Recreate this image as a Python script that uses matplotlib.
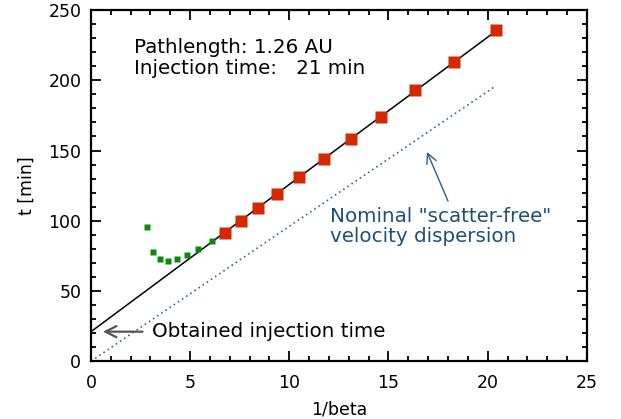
import numpy as np
import matplotlib
matplotlib.use("Agg")
from matplotlib import pyplot as plt

# red: points used for the fit
fit_invbeta = [6.75, 7.56, 8.42, 9.37, 10.48, 11.74, 13.10, 14.62, 16.33, 18.30, 20.41]
fit_t = [91, 100, 109, 119, 131, 144, 158, 174, 193, 213, 236]

# green: low-energy points not used
low_invbeta = [2.82, 3.13, 3.48, 3.88, 4.33, 4.84, 5.39, 6.10]
low_t = [95.7, 77.9, 72.9, 71.4, 72.9, 75.7, 80.0, 85.7]

# fitted line and nominal scatter-free line (end points)
line_invbeta = [0, 20.41]
line_t = [21, 235]
nominal_t = [0, 196]

plt.rcParams['font.family'] = ['DejaVu Sans']

fig = plt.figure(figsize=(6.21, 4.19), dpi=100)
ax = fig.add_axes([0.1465, 0.138, 0.7985, 0.838])

ax.plot(line_invbeta, line_t, color='black', lw=1.1)
ax.plot(line_invbeta, nominal_t, color='#2e6a96', lw=1.2, ls=(0, (1, 2)))
ax.plot(low_invbeta, low_t, 's', color='#0a8a0a', ms=5, mec='none')
ax.plot(fit_invbeta, fit_t, 's', color='#d42800', ms=8.5, mec='none')

ax.set_xlim(0, 25)
ax.set_ylim(0, 250)
ax.set_xticks(np.arange(0, 26, 5))
ax.set_yticks(np.arange(0, 251, 50))
ax.set_xticks(np.arange(0, 25, 1), minor=True)
ax.set_yticks(np.arange(0, 250, 10), minor=True)
ax.tick_params(which='both', direction='in', top=True, right=True, width=1.3,
               labelsize=12.5)
ax.tick_params(axis='x', pad=9)
ax.tick_params(axis='y', pad=7)
ax.tick_params(which='major', length=7)
ax.tick_params(which='minor', length=3.6)
for s in ax.spines.values():
    s.set_linewidth(1.6)

ax.set_xlabel('1/beta', fontsize=12.5, labelpad=6)
ax.set_ylabel('t [min]', fontsize=12.5, labelpad=9)

ax.text(2.17, 216, 'Pathlength: 1.26 AU\nInjection time:   21 min',
        fontsize=14.3, va='center', ha='left', linespacing=1.1)

ax.text(12.05, 96, 'Nominal "scatter-free"\nvelocity dispersion',
        fontsize=14.3, color='#1f4f78', va='center', ha='left', linespacing=1.06)
ax.annotate('', xy=(16.94, 149), xytext=(18.0, 114),
            arrowprops=dict(arrowstyle='->', color='#2e5f86', lw=1.0,
                            mutation_scale=18, shrinkA=0, shrinkB=0))

ax.annotate('', xy=(0.6, 21), xytext=(2.6, 21),
            arrowprops=dict(arrowstyle='->', color='#555555', lw=1.6,
                            mutation_scale=20, shrinkA=0, shrinkB=0))
ax.text(3.1, 21, 'Obtained injection time', fontsize=14.3, va='center', ha='left')

fig.savefig('out.png', dpi=100)
